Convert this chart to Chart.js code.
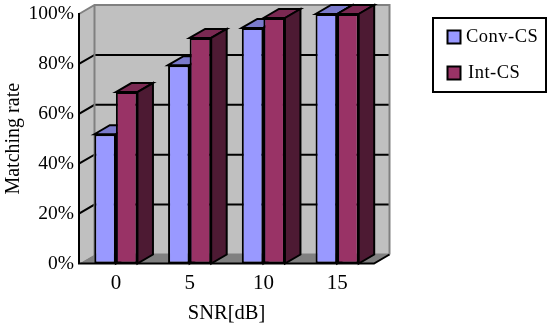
<!DOCTYPE html>
<html><head><meta charset="utf-8">
<style>html,body{margin:0;padding:0;background:#fff}#w{width:550px;height:326px;position:relative}</style>
<script src="https://cdn.jsdelivr.net/npm/chart.js@4"></script>
</head><body><div id="w"><canvas id="c"></canvas></div>
<script>
const categories = ['0', '5', '10', '15'];
const convCS = [51.8, 79.5, 94.4, 100];
const intCS = [68.7, 90.4, 98.4, 100];
const yTicks = [0, 20, 40, 60, 80, 100];

const DX = 15.5, DY = -9;
const faces = [
  {front: '#9999FF', top: '#7A7ACC', side: '#4D4D80'},
  {front: '#993366', top: '#7A2952', side: '#4D1A33'}
];

function poly(ctx, pts, fill, stroke, lw) {
  ctx.beginPath();
  pts.forEach((p, i) => i ? ctx.lineTo(p[0], p[1]) : ctx.moveTo(p[0], p[1]));
  ctx.closePath();
  if (fill) { ctx.fillStyle = fill; ctx.fill(); }
  if (stroke) { ctx.strokeStyle = stroke; ctx.lineWidth = lw; ctx.lineJoin = 'miter'; ctx.stroke(); }
}

const box3d = {
  id: 'box3d',
  beforeDatasetsDraw(chart) {
    const {ctx, scales: {x, y}, chartArea: a} = chart;
    const b = y.getPixelForValue(0), t = y.getPixelForValue(100);
    ctx.save();
    poly(ctx, [[a.left, t], [a.left + DX, t + DY], [a.left + DX, b + DY], [a.left, b]], '#C0C0C0');
    poly(ctx, [[a.left + DX, t + DY], [a.right + DX, t + DY], [a.right + DX, b + DY], [a.left + DX, b + DY]], '#C0C0C0');
    poly(ctx, [[a.left, b], [a.left + DX, b + DY], [a.right + DX, b + DY], [a.right, b]], '#808080');
    yTicks.forEach(v => {
      const p = y.getPixelForValue(v);
      if (v > 0 && v < 100) {
        ctx.strokeStyle = '#000'; ctx.lineWidth = 2;
        ctx.beginPath();
        ctx.moveTo(a.left, p); ctx.lineTo(a.left + DX, p + DY); ctx.lineTo(a.right + DX, p + DY);
        ctx.stroke();
      }
    });
    ctx.strokeStyle = '#808080'; ctx.lineWidth = 2;
    ctx.beginPath();
    ctx.moveTo(a.left, t); ctx.lineTo(a.left + DX, t + DY); ctx.lineTo(a.right + DX, t + DY);
    ctx.lineTo(a.right + DX, b + DY);
    ctx.moveTo(a.left + DX, t + DY); ctx.lineTo(a.left + DX, b + DY); ctx.lineTo(a.right + DX, b + DY);
    ctx.stroke();
    ctx.strokeStyle = '#000'; ctx.lineWidth = 2;
    ctx.beginPath();
    ctx.moveTo(a.left, t - 1); ctx.lineTo(a.left, b); ctx.lineTo(a.right, b); ctx.lineTo(a.right + DX, b + DY);
    ctx.stroke();
    chart.data.datasets.forEach((ds, i) => {
      chart.getDatasetMeta(i).data.forEach(el => {
        const h = el.getProps(['x', 'y', 'width', 'base'], true);
        const l = h.x - h.width / 2, r = h.x + h.width / 2;
        poly(ctx, [[l, h.y], [l + DX, h.y + DY], [r + DX, h.y + DY], [r, h.y]], faces[i].top, '#000', 2);
        poly(ctx, [[r, h.y], [r + DX, h.y + DY], [r + DX, h.base + DY], [r, h.base]], faces[i].side, '#000', 2);
      });
    });
    ctx.restore();
  },
  afterDraw(chart) {
    const {ctx} = chart;
    ctx.save();
    ctx.strokeStyle = '#000'; ctx.lineWidth = 2;
    ctx.strokeRect(433, 18, 113, 74);
    const rows = [36.5, 72.5];
    const textX = [466, 468];
    chart.data.datasets.forEach((ds, i) => {
      ctx.fillStyle = faces[i].front;
      ctx.fillRect(447.5, rows[i] - 6, 13, 13);
      ctx.strokeRect(447.5, rows[i] - 6, 13, 13);
      ctx.fillStyle = '#000';
      ctx.font = '18.5px "Liberation Serif"';
      ctx.letterSpacing = '0.5px';
      ctx.textBaseline = 'middle';
      ctx.fillText(ds.label, textX[i], rows[i] + 1);
    });
    ctx.restore();
  }
};

new Chart(document.getElementById('c'), {
  type: 'bar',
  data: {
    labels: categories,
    datasets: [
      {label: 'Conv-CS', data: convCS, backgroundColor: faces[0].front},
      {label: 'Int-CS', data: intCS, backgroundColor: faces[1].front}
    ]
  },
  options: {
    responsive: true, maintainAspectRatio: false, animation: false,
    layout: {autoPadding: false, padding: {top: 14, right: 176, left: 0, bottom: 0}},
    datasets: {bar: {categoryPercentage: 0.585, barPercentage: 1, borderColor: '#000', borderWidth: 2, borderSkipped: false, clip: false}},
    plugins: {legend: {display: false}, tooltip: {enabled: false}},
    scales: {
      x: {
        grid: {display: false, drawTicks: false}, border: {display: false},
        ticks: {color: '#000', font: {family: '"Liberation Serif"', size: 21}, padding: 7, maxRotation: 0},
        title: {display: true, text: 'SNR[dB]', color: '#000', font: {family: '"Liberation Serif"', size: 20.5}, padding: {top: 4, bottom: 0}},
        afterFit(s) { s.height = 62.5; }
      },
      y: {
        min: 0, max: 100,
        grid: {display: false, drawTicks: false}, border: {display: false},
        afterBuildTicks(s) { s.ticks = yTicks.map(v => ({value: v})); },
        ticks: {color: '#000', font: {family: '"Liberation Serif"', size: 19.5}, padding: 5, callback: v => v + '%'},
        title: {display: true, text: 'Matching rate', color: '#000', font: {family: '"Liberation Serif"', size: 20}, padding: {top: 2, bottom: 0}},
        afterFit(s) { s.width = 79; s.paddingTop = 0; s.paddingBottom = 0; }
      }
    }
  },
  plugins: [box3d]
});
</script></body></html>
